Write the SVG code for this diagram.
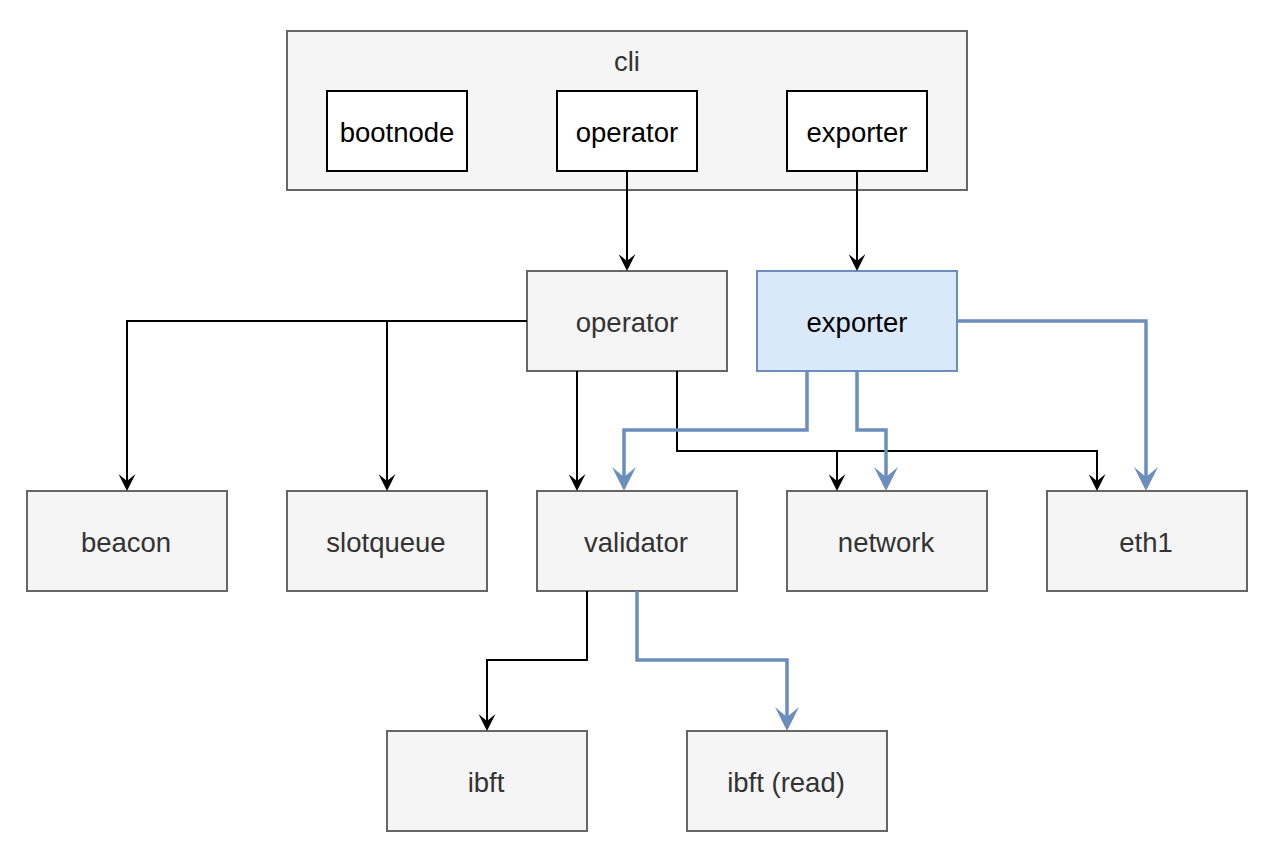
<svg xmlns="http://www.w3.org/2000/svg" width="1276" height="862" viewBox="0 0 1276 862">
<style>
.g{fill:#f5f5f5;stroke:#666666;stroke-width:2}
.w{fill:#ffffff;stroke:#000000;stroke-width:2}
.b{fill:#dae8fc;stroke:#6c8ebf;stroke-width:2}
text{font-family:"Liberation Sans",Arial,Helvetica,sans-serif;font-size:27.5px;text-anchor:middle}
.tg{fill:#333333}
.tk{fill:#000000}
.e{fill:none;stroke:#000000;stroke-width:2}
.eb{fill:none;stroke:#6c8ebf;stroke-width:3.5}
</style>
<defs>
<marker id="ak" markerUnits="userSpaceOnUse" markerWidth="17" markerHeight="17" viewBox="0 0 17 17" refX="7" refY="8.5" orient="auto">
<path d="M0,0 L17,8.5 L0,17 L7,8.5 Z" fill="#000000"/>
</marker>
<marker id="ab" markerUnits="userSpaceOnUse" markerWidth="24" markerHeight="24" viewBox="0 0 24 24" refX="10" refY="12" orient="auto">
<path d="M0,0 L24,12 L0,24 L10,12 Z" fill="#6c8ebf"/>
</marker>
</defs>
<g id="cli"><rect class="g" x="287" y="31" width="680" height="159"/><text class="tg" x="627" y="71">cli</text></g>
<g id="cli-bootnode"><rect class="w" x="327" y="91" width="140" height="80"/><text class="tk" x="397" y="142">bootnode</text></g>
<g id="cli-operator"><rect class="w" x="557" y="91" width="140" height="80"/><text class="tk" x="627" y="142">operator</text></g>
<g id="cli-exporter"><rect class="w" x="787" y="91" width="140" height="80"/><text class="tk" x="857" y="142">exporter</text></g>
<g id="operator"><rect class="g" x="527" y="271" width="200" height="100"/><text class="tg" x="627" y="332">operator</text></g>
<g id="exporter"><rect class="b" x="757" y="271" width="200" height="100"/><text class="tk" x="857" y="332">exporter</text></g>
<g id="beacon"><rect class="g" x="27" y="491" width="200" height="100"/><text class="tg" x="126" y="552">beacon</text></g>
<g id="slotqueue"><rect class="g" x="287" y="491" width="200" height="100"/><text class="tg" x="386" y="552">slotqueue</text></g>
<g id="validator"><rect class="g" x="537" y="491" width="200" height="100"/><text class="tg" x="636" y="552">validator</text></g>
<g id="network"><rect class="g" x="787" y="491" width="200" height="100"/><text class="tg" x="886" y="552">network</text></g>
<g id="eth1"><rect class="g" x="1047" y="491" width="200" height="100"/><text class="tg" x="1146" y="552">eth1</text></g>
<g id="ibft"><rect class="g" x="387" y="731" width="200" height="100"/><text class="tg" x="486" y="792">ibft</text></g>
<g id="ibft-read"><rect class="g" x="687" y="731" width="200" height="100"/><text class="tg" x="786" y="792">ibft (read)</text></g>
<g id="connectors">
<path class="e" d="M627,171 V261" marker-end="url(#ak)"/>
<path class="e" d="M857,171 V261" marker-end="url(#ak)"/>
<path class="e" d="M527,321 H127 V481" marker-end="url(#ak)"/>
<path class="e" d="M527,321 H387 V481" marker-end="url(#ak)"/>
<path class="e" d="M577,371 V481" marker-end="url(#ak)"/>
<path class="e" d="M677,371 V451 H837 V481" marker-end="url(#ak)"/>
<path class="e" d="M677,371 V451 H1097 V481" marker-end="url(#ak)"/>
<path class="e" d="M587,591 V660 H487 V721" marker-end="url(#ak)"/>
<path class="eb" d="M807,371 V430 H624 V477" marker-end="url(#ab)"/>
<path class="eb" d="M857,371 V430 H886 V477" marker-end="url(#ab)"/>
<path class="eb" d="M957,321 H1146 V477" marker-end="url(#ab)"/>
<path class="eb" d="M637,591 V660 H787 V717" marker-end="url(#ab)"/>
</g>
</svg>
